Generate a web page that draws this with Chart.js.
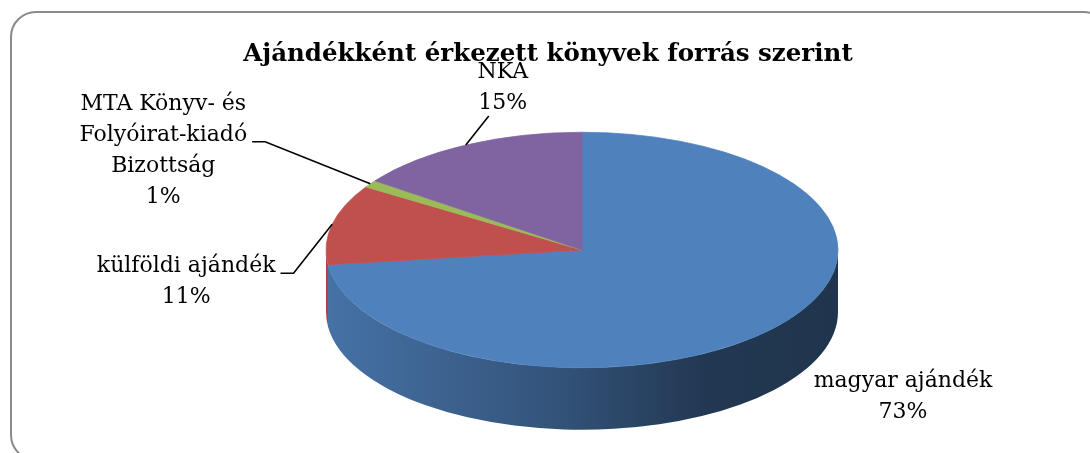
<!DOCTYPE html>
<html>
<head>
<meta charset="utf-8">
<script src="https://cdn.jsdelivr.net/npm/chart.js@4.4.0/dist/chart.umd.min.js"></script>
<style>
  html, body { margin: 0; padding: 0; background: #fff; overflow: hidden; }
  #wrap { position: relative; width: 1090px; height: 453px; }
  #frame {
    position: absolute; left: 10px; top: 11px; width: 1100px; height: 450px;
    border: 2px solid #8a8a8a; border-radius: 26px; box-sizing: border-box;
  }
  canvas { position: absolute; left: 0; top: 0; }
</style>
</head>
<body>
<div id="wrap">
  <div id="frame"></div>
  <canvas id="pie" width="1090" height="453"></canvas>
</div>
<script>
// ---- data ----
const chartTitle = "Ajándékként érkezett könyvek forrás szerint";
const categories = [
  ["magyar ajándék"],
  ["külföldi ajándék"],
  ["MTA Könyv- és", "Folyóirat-kiadó", "Bizottság"],
  ["NKA"]
];
const shares = [73, 11, 1, 15];
const sliceColors = ["#4f81bd", "#c0504d", "#9bbb59", "#8064a2"];

// ---- look ----
const TILT = 0.46;          // height / width of the pie top
const DEPTH = 62;           // thickness of the pie side
const LABEL_FONT = "22px 'DejaVu Serif'";
const TITLE_FONT = "bold 24.5px 'DejaVu Serif'";
const LINE_H = 31;

// where each label sits, measured from the slice's rim point
const labelPlace = [
  { dx: 129,  dy: 53,  leader: null },
  { dx: -146, dy: 42,  leader: { line: 0 } },
  { dx: -207, dy: -80, leader: { line: 1 } },
  { dx: 37,   dy: -73, leader: { below: true } }
];

function shade(hex, f) {
  const n = parseInt(hex.slice(1), 16);
  const r = Math.round(((n >> 16) & 255) * f);
  const g = Math.round(((n >> 8) & 255) * f);
  const b = Math.round((n & 255) * f);
  return "rgb(" + r + "," + g + "," + b + ")";
}

// side wall underneath, then squash the top face into an ellipse
const pie3d = {
  id: "pie3d",
  beforeDatasetsDraw(chart) {
    const ctx = chart.ctx;
    const arcs = chart.getDatasetMeta(0).data;
    const cx = arcs[0].x, cy = arcs[0].y, r = arcs[0].outerRadius, ry = r * TILT;

    arcs.forEach((arc, i) => {
      const a = Math.max(arc.startAngle, 0);
      const b = Math.min(arc.endAngle, Math.PI);
      if (b <= a) return;
      const grad = ctx.createLinearGradient(cx - r, 0, cx + r, 0);
      grad.addColorStop(0, shade(sliceColors[i], 0.88));
      grad.addColorStop(0.45, shade(sliceColors[i], 0.64));
      grad.addColorStop(0.75, shade(sliceColors[i], 0.43));
      grad.addColorStop(1, shade(sliceColors[i], 0.41));
      ctx.beginPath();
      ctx.ellipse(cx, cy, r, ry, 0, a, b);
      ctx.ellipse(cx, cy + DEPTH, r, ry, 0, b, a, true);
      ctx.closePath();
      ctx.fillStyle = grad;
      ctx.fill();
    });

    ctx.save();
    ctx.translate(cx, cy);
    ctx.scale(1, TILT);
    ctx.translate(-cx, -cy);
  },
  afterDatasetsDraw(chart) {
    chart.ctx.restore();
  },
  afterDraw(chart) {
    const ctx = chart.ctx;
    const arcs = chart.getDatasetMeta(0).data;
    const total = shares.reduce((s, v) => s + v, 0);

    ctx.save();
    ctx.fillStyle = "#000";
    ctx.strokeStyle = "#000";
    ctx.lineWidth = 1.6;
    ctx.textAlign = "center";
    ctx.textBaseline = "middle";
    ctx.font = LABEL_FONT;

    arcs.forEach((arc, i) => {
      const mid = (arc.startAngle + arc.endAngle) / 2;
      const ax = arc.x + arc.outerRadius * Math.cos(mid);
      const ay = arc.y + arc.outerRadius * TILT * Math.sin(mid);
      const p = labelPlace[i];
      const lx = ax + p.dx, ly = ay + p.dy;
      const lines = categories[i].concat(Math.round(shares[i] / total * 100) + "%");
      lines.forEach((t, j) => ctx.fillText(t, lx, ly + j * LINE_H));

      if (!p.leader) return;
      ctx.beginPath();
      if (p.leader.below) {
        const by = ly + (lines.length - 1) * LINE_H + 13;
        ctx.moveTo(lx - 14, by);
        ctx.lineTo(ax, ay);
      } else {
        const w = Math.max(...lines.map(t => ctx.measureText(t).width));
        const sx = lx + w / 2 + 5;
        const sy = ly + p.leader.line * LINE_H + 7;
        ctx.moveTo(sx, sy);
        ctx.lineTo(sx + 13, sy);
        ctx.lineTo(ax, ay);
      }
      ctx.stroke();
    });

    ctx.font = TITLE_FONT;
    ctx.fillText(chartTitle, 548, 55);
    ctx.restore();
  }
};

new Chart(document.getElementById("pie").getContext("2d"), {
  type: "pie",
  data: {
    labels: categories,
    datasets: [{
      data: shares,
      backgroundColor: sliceColors,
      borderColor: sliceColors,
      borderWidth: 1,
      radius: 256,
      clip: false
    }]
  },
  options: {
    responsive: false,
    animation: false,
    events: [],
    layout: { padding: { left: 74, top: 47, right: 0, bottom: 0 } },
    plugins: {
      legend: { display: false },
      title: { display: false },
      tooltip: { enabled: false }
    }
  },
  plugins: [pie3d]
});
</script>
</body>
</html>
